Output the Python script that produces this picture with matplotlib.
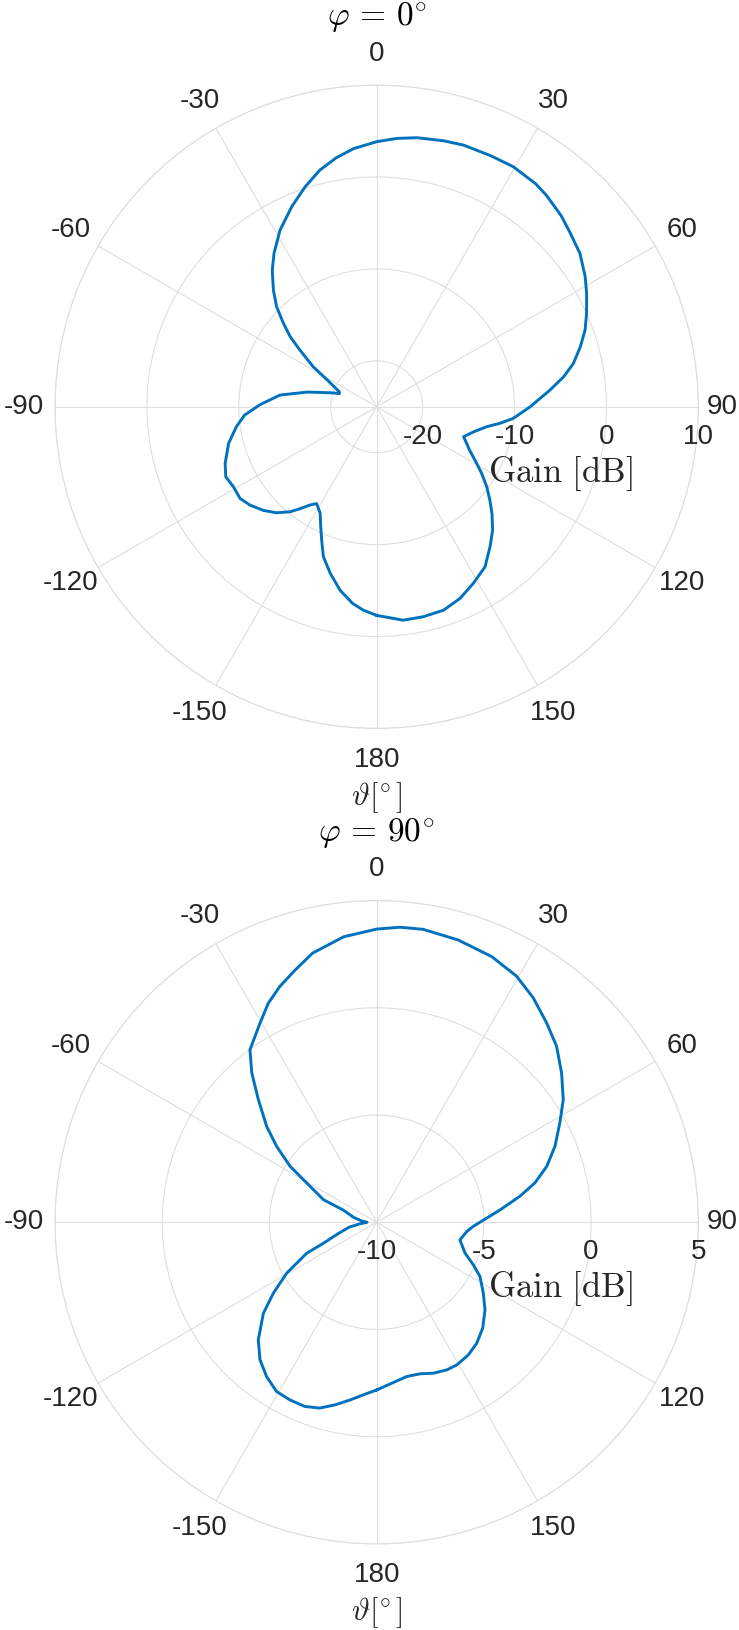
import numpy as np
import matplotlib.pyplot as plt

plt.rcParams['font.family'] = ['Liberation Sans', 'DejaVu Sans']
plt.rcParams['mathtext.fontset'] = 'cm'

# phi = 0 cut: theta [deg], gain [dB]
theta_top = [-180, -176.2, -173, -168.7, -164.4, -160.4, -157.6, -155, -152, -148.2,
             -145.9, -143, -140.5, -136.7, -132.5, -127.8, -123.9, -119.2, -114.9, -110.5,
             -103.9, -98, -93.6, -89, -83.1, -78, -72.7, -70.5, -68, -61.3,
             -57.7, -53.5, -51, -48.2, -45, -41.5, -37.4, -33.8, -28.7, -23,
             -18, -13.5, -9.2, -5.1, 0, 4.3, 8.5, 14.1, 18.3, 24.4,
             29.6, 35.5, 38.8, 44, 48.1, 53, 58, 61.6, 66, 69.8,
             73.6, 77.6, 80.9, 84.5, 90, 94.9, 97.7, 100.3, 104.5, 109,
             110.7, 115.2, 119.5, 122.4, 126, 129.5, 132.8, 136.8, 141, 145.9,
             151.3, 156.5, 161.8, 167.5, 172.9, 180]
gain_top = [-2.3, -2.83, -3.45, -4.65, -6.2, -7.7, -9.3, -10.6, -11.9, -12.6,
            -12.1, -11.1, -10.2, -9.15, -8.3, -7.55, -7.1, -7.15, -6.9, -7.4,
            -8.4, -9.6, -10.6, -12.3, -14.4, -17.3, -19.9, -20.7, -20.6, -18.8,
            -16.8, -14.6, -12.9, -11.4, -9.6, -8.04, -6.3, -4.92, -3.1, -1.35,
            0.17, 1.48, 2.45, 3.2, 3.84, 4.28, 4.6, 4.84, 5.0, 5.0,
            5.05, 4.8, 4.5, 3.9, 3.3, 2.7, 1.75, 0.97, 0.0, -0.84,
            -1.9, -3.09, -4.4, -6.06, -8.3, -10.1, -11.5, -12.85, -14.1, -15.0,
            -14.7, -13.8, -12.5, -11.47, -10.2, -9.04, -7.9, -6.57, -5.4, -3.97,
            -3.1, -2.26, -1.7, -1.6, -1.6, -2.3]

# phi = 90 cut
theta_bot = [-180, -175.6, -171.5, -167.2, -163, -158.7, -154, -149.4, -144.5, -139.7,
             -134.8, -128.8, -124.5, -119.5, -113.9, -111.5, -106.7, -100, -95, -90,
             -85, -78, -70, -67, -60.7, -57.1, -52.8, -48.9, -44, -39.9,
             -36.3, -30.3, -26.3, -22.3, -18, -13.4, -6.6, 0, 4.5, 9,
             16.1, 23.4, 29.6, 34.9, 40.5, 45.6, 51.1, 56.7, 61.5, 66.9,
             71.8, 76, 79.7, 84.3, 92.4, 95.9, 102, 109.3, 113.8, 117.7,
             123.6, 129, 135, 140.4, 145.4, 150.7, 154.6, 159.4, 164, 169,
             174.7, 180]
gain_bot = [-2.18, -1.93, -1.62, -1.27, -0.94, -0.78, -0.78, -0.83, -1.16, -1.59,
            -2.22, -3.22, -4.15, -5.18, -6.43, -7.33, -8.1, -8.7, -9.25, -9.55,
            -9.3, -8.9, -8.35, -7.3, -6.26, -5.19, -4.14, -3.19, -2.06, -0.92,
            -0.02, 0.77, 1.4, 1.89, 2.35, 2.9, 3.4, 3.67, 3.8, 3.83,
            3.7, 3.5, 3.2, 2.76, 2.21, 1.74, 1.08, 0.41, -0.28, -0.96,
            -1.65, -2.39, -3.21, -4.22, -5.49, -5.78, -6.03, -5.63, -5.07, -4.56,
            -4.03, -3.5, -3.01, -2.68, -2.48, -2.37, -2.38, -2.48, -2.65, -2.67,
            -2.46, -2.18]

theta_ticks = list(range(0, 360, 30))
theta_labels = ['0', '30', '60', '90', '120', '150', '180',
                '-150', '-120', '-90', '-60', '-30']

grid_col = '#dedede'
txt_col = '#262626'


def polar_cut(ax, th, g, rlim, rticks, title):
    ax.plot(np.deg2rad(th), g, color='#0072BD', lw=2.1)
    ax.set_theta_zero_location('N')
    ax.set_theta_direction(-1)
    ax.set_ylim(*rlim)
    ax.set_yticks(rticks)
    ax.set_yticklabels([])
    ax.set_thetagrids(theta_ticks, labels=[])
    ax.grid(True, color=grid_col, lw=0.8)
    ax.spines['polar'].set_color(grid_col)
    ax.spines['polar'].set_linewidth(0.8)
    # theta labels centred on a circle just outside the plot
    for t, lab in zip(theta_ticks, theta_labels):
        a = np.deg2rad(t)
        x = 0.5 + 0.549 * np.sin(a)
        ha = 'center'
        if t == 90:
            # keep it inside the figure, as in the original
            x, ha = 1.0615, 'right'
        ax.text(x, 0.5 + 0.549 * np.cos(a), lab,
                transform=ax.transAxes, ha=ha, va='center',
                fontsize=20, color=txt_col)
    # radial labels under the 90 deg spoke, like matlab
    for r in rticks:
        ax.annotate(str(r), xy=(np.pi / 2, r), xytext=(0, -21.5),
                    textcoords='offset points', ha='center', va='center',
                    fontsize=20, color=txt_col)
    ax.text(0.785, 0.397, r'$\mathrm{Gain\ [dB]}$', transform=ax.transAxes,
            ha='center', va='center', fontsize=25, color=txt_col)
    ax.text(0.5, -0.107, r'$\vartheta[^{\!\circ}]$', transform=ax.transAxes,
            ha='center', va='center', fontsize=22, color=txt_col)
    ax.text(0.5, 1.104, title, transform=ax.transAxes,
            ha='center', va='center', fontsize=24, color='k')


fig = plt.figure(figsize=(7.39, 16.3), dpi=100)
ax1 = fig.add_axes([0.0744, 0.5531, 0.8706, 0.3947], projection='polar')
ax2 = fig.add_axes([0.0744, 0.0528, 0.8706, 0.3947], projection='polar')

polar_cut(ax1, theta_top, gain_top, (-25, 10), [-20, -10, 0, 10],
          r'$\varphi\,=\,0^{\!\circ}$')
polar_cut(ax2, theta_bot, gain_bot, (-10, 5), [-10, -5, 0, 5],
          r'$\varphi\,=\,90^{\!\circ}$')

fig.savefig('out.png', dpi=100)
